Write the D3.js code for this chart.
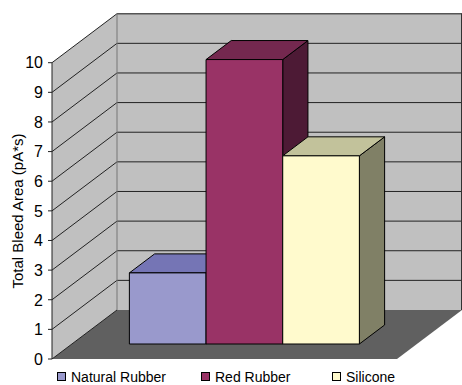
<!DOCTYPE html>
<html>
<head>
<meta charset="utf-8">
<script src="https://cdn.jsdelivr.net/npm/d3@7"></script>
<style>
  body { margin: 0; background: #fff; }
  svg { display: block; }
</style>
</head>
<body>
<svg id="chart" width="462" height="385"></svg>
<script>
const series = ["Natural Rubber", "Red Rubber", "Silicone"];
const values = [2.4, 9.6, 6.35];
const yTicks = [0, 1, 2, 3, 4, 5, 6, 7, 8, 9, 10];
const frontColors = ["#9999cc", "#993366", "#fffacd"];
const topColors = ["#7575b5", "#74284f", "#c2c29b"];
const sideColors = ["#5f5f96", "#4d1a35", "#808066"];

const svg = d3.select("#chart");

// front plane and depth offset of the 3d box
const x0 = 52, x1 = 397;
const depth = { dx: 65, dy: -49 };
const y = d3.scaleLinear().domain([0, 10]).range([359, 62.7]);
const x = d3.scaleBand().domain(series).range([x0, x1]).paddingInner(0).paddingOuter(0.75);
const barFront = 0.306, barBack = 0.694;

const pts = (arr) => arr.map((p) => p.join(",")).join(" ");
const shift = (p, f) => [p[0] + depth.dx * f, p[1] + depth.dy * f];

// walls
const yTop = y(10), yBase = y(0);
svg.append("polygon")
  .attr("points", pts([shift([x0, yTop], 1), shift([462 - depth.dx, yTop], 1), shift([462 - depth.dx, yBase], 1), shift([x0, yBase], 1)]))
  .attr("fill", "#c0c0c0");
svg.append("polygon")
  .attr("points", pts([[x0, yTop], shift([x0, yTop], 1), shift([x0, yBase], 1), [x0, yBase]]))
  .attr("fill", "#c0c0c0");
svg.append("polygon")
  .attr("points", pts([[x0, yBase], [x1, yBase], shift([x1, yBase], 1), shift([x0, yBase], 1)]))
  .attr("fill", "#606060");

// gridlines
const grid = svg.append("g").attr("stroke", "#222").attr("stroke-width", 1).attr("fill", "none");
yTicks.forEach((v) => {
  const p = [x0, y(v)];
  const b = shift(p, 1);
  grid.append("line").attr("x1", p[0]).attr("y1", p[1]).attr("x2", b[0]).attr("y2", b[1]);
  if (v > 0 && v < 10) {
    grid.append("line").attr("x1", b[0]).attr("y1", b[1]).attr("x2", 462).attr("y2", b[1]);
  }
});
const bTop = shift([x0, yTop], 1);
svg.append("line").attr("x1", bTop[0]).attr("y1", bTop[1]).attr("x2", 462).attr("y2", bTop[1])
  .attr("stroke", "#555").attr("stroke-width", 1.5);
svg.append("line").attr("x1", 461.5).attr("y1", bTop[1]).attr("x2", 461.5).attr("y2", y(0) + depth.dy)
  .attr("stroke", "#333");
svg.append("line").attr("x1", bTop[0]).attr("y1", bTop[1]).attr("x2", bTop[0]).attr("y2", y(0) + depth.dy)
  .attr("stroke", "#777");
svg.append("line").attr("x1", x0).attr("y1", yTop).attr("x2", x0).attr("y2", yBase)
  .attr("stroke", "#222");

// y axis ticks and labels
const axis = svg.append("g");
yTicks.forEach((v) => {
  axis.append("line").attr("x1", x0 - 4).attr("x2", x0).attr("y1", y(v)).attr("y2", y(v)).attr("stroke", "#222");
  axis.append("text")
    .attr("x", x0 - 9).attr("y", y(v)).attr("dy", "0.36em")
    .attr("text-anchor", "end")
    .attr("font-family", "Liberation Sans Narrow, Liberation Sans, Arial, sans-serif")
    .attr("font-size", 16)
    .attr("fill", "#000")
    .text(v);
});

svg.append("text")
  .attr("transform", `translate(23, ${211}) rotate(-90)`)
  .attr("text-anchor", "middle")
  .attr("font-family", "Liberation Sans, Arial, sans-serif")
  .attr("font-size", 15)
  .text("Total Bleed Area (pA*s)");

// bars
const bars = svg.append("g").attr("stroke", "#000").attr("stroke-width", 1).attr("stroke-linejoin", "round");
series.forEach((s, i) => {
  const l = x(s), r = x(s) + x.bandwidth();
  const t = y(values[i]), b = y(0);
  const fl = shift([l, t], barFront), fr = shift([r, t], barFront);
  const frb = shift([r, b], barFront), flb = shift([l, b], barFront);
  const bl = shift([l, t], barBack), br = shift([r, t], barBack), brb = shift([r, b], barBack);
  bars.append("polygon").attr("points", pts([fr, br, brb, frb])).attr("fill", sideColors[i]);
  bars.append("polygon").attr("points", pts([fl, bl, br, fr])).attr("fill", topColors[i]);
  bars.append("polygon").attr("points", pts([fl, fr, frb, flb])).attr("fill", frontColors[i]);
});

// legend
const legendX = [57, 201, 332];
const legend = svg.append("g");
series.forEach((s, i) => {
  legend.append("rect")
    .attr("x", legendX[i] + 0.5).attr("y", 372.5).attr("width", 8).attr("height", 8)
    .attr("fill", frontColors[i]).attr("stroke", "#000");
  legend.append("text")
    .attr("x", legendX[i] + 14).attr("y", 382)
    .attr("font-family", "Liberation Sans, Arial, sans-serif")
    .attr("font-size", 14)
    .text(s);
});
</script>
</body>
</html>
